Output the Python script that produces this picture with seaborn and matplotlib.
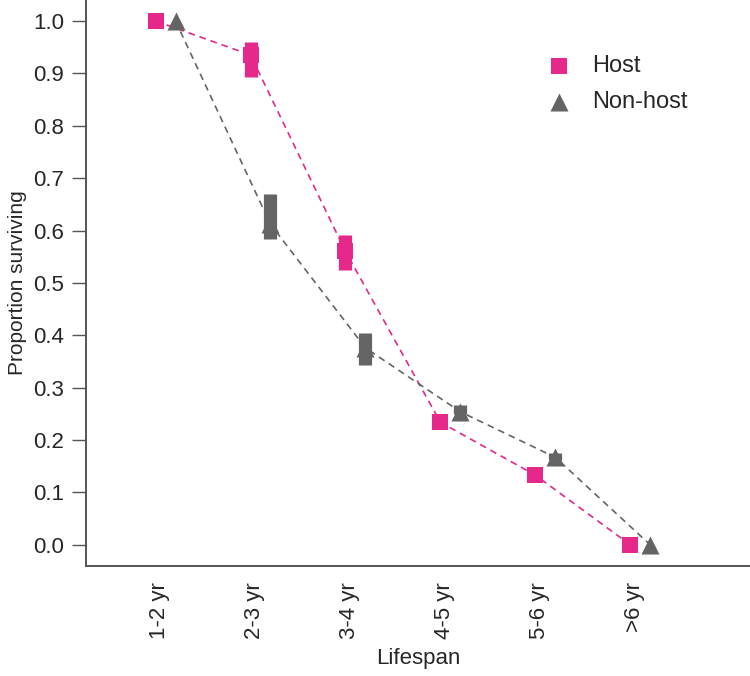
import numpy as np
import pandas as pd
import seaborn as sns
from matplotlib import pyplot as plt

# ---------------- data ----------------
lifespan = ['1-2 yr', '2-3 yr', '3-4 yr', '4-5 yr', '5-6 yr', '>6 yr']
host = [1.0, 0.935, 0.56, 0.234, 0.133, 0.0]
host_lo = [1.0, 0.893, 0.525, 0.228, 0.128, 0.0]
host_hi = [1.0, 0.96, 0.592, 0.242, 0.138, 0.0]
nonhost = [1.0, 0.612, 0.376, 0.254, 0.167, 0.0]
nonhost_lo = [1.0, 0.584, 0.344, 0.250, 0.162, 0.0]
nonhost_hi = [1.0, 0.670, 0.405, 0.266, 0.176, 0.0]

PINK = '#E5288A'
GRAY = '#646464'

sns.set_style('ticks')
plt.rcParams['font.family'] = ['Liberation Sans', 'DejaVu Sans']

fig, ax = plt.subplots(figsize=(7.5, 6.76), dpi=100)
fig.subplots_adjust(left=0.115, right=1.0, bottom=0.163, top=1.0)

idx = np.arange(len(lifespan))
groups = [
    ('Host', host, host_lo, host_hi, PINK, 's', -0.04, 12),
    ('Non-host', nonhost, nonhost_lo, nonhost_hi, GRAY, '^', 0.17, 13),
]

for name, vals, lo, hi, color, marker, offset, ms in groups:
    df = pd.DataFrame({'x': idx + offset, 'y': vals})
    # error bars as thick vertical strokes
    ax.vlines(df['x'], lo, hi, color=color, linewidth=9.5, zorder=2)
    sns.lineplot(data=df, x='x', y='y', ax=ax, color=color, linestyle=(0, (4, 3)),
                 linewidth=1.2, zorder=1)
    sns.scatterplot(data=df, x='x', y='y', ax=ax, color=color, marker=marker, s=ms ** 2,
                    linewidth=0, zorder=3, label=name)

ax.set_xlim(-0.77, 6.22)
ax.set_ylim(-0.04, 1.04)
ax.set_xticks(idx)
ax.set_xticklabels(lifespan, rotation=90, fontsize=16)
ax.set_yticks(np.arange(0, 1.01, 0.1))
ax.set_yticklabels([f'{v:.1f}' for v in np.arange(0, 1.01, 0.1)], fontsize=16)
ax.tick_params(axis='x', length=0, pad=12)
ax.tick_params(axis='y', length=10, width=1, color='#555555', pad=6)
ax.set_xlabel('Lifespan', fontsize=16, labelpad=6)
ax.set_ylabel('Proportion surviving', fontsize=15, labelpad=4)

for side in ['top', 'right']:
    ax.spines[side].set_visible(False)
for side in ['left', 'bottom']:
    ax.spines[side].set_color('#555555')
    ax.spines[side].set_linewidth(1.4)

ax.legend(loc='upper right', bbox_to_anchor=(0.938, 0.94), frameon=False, fontsize=17,
          handletextpad=0.4, markerscale=1.0, labelspacing=0.6)

plt.savefig('out.png', dpi=100)
